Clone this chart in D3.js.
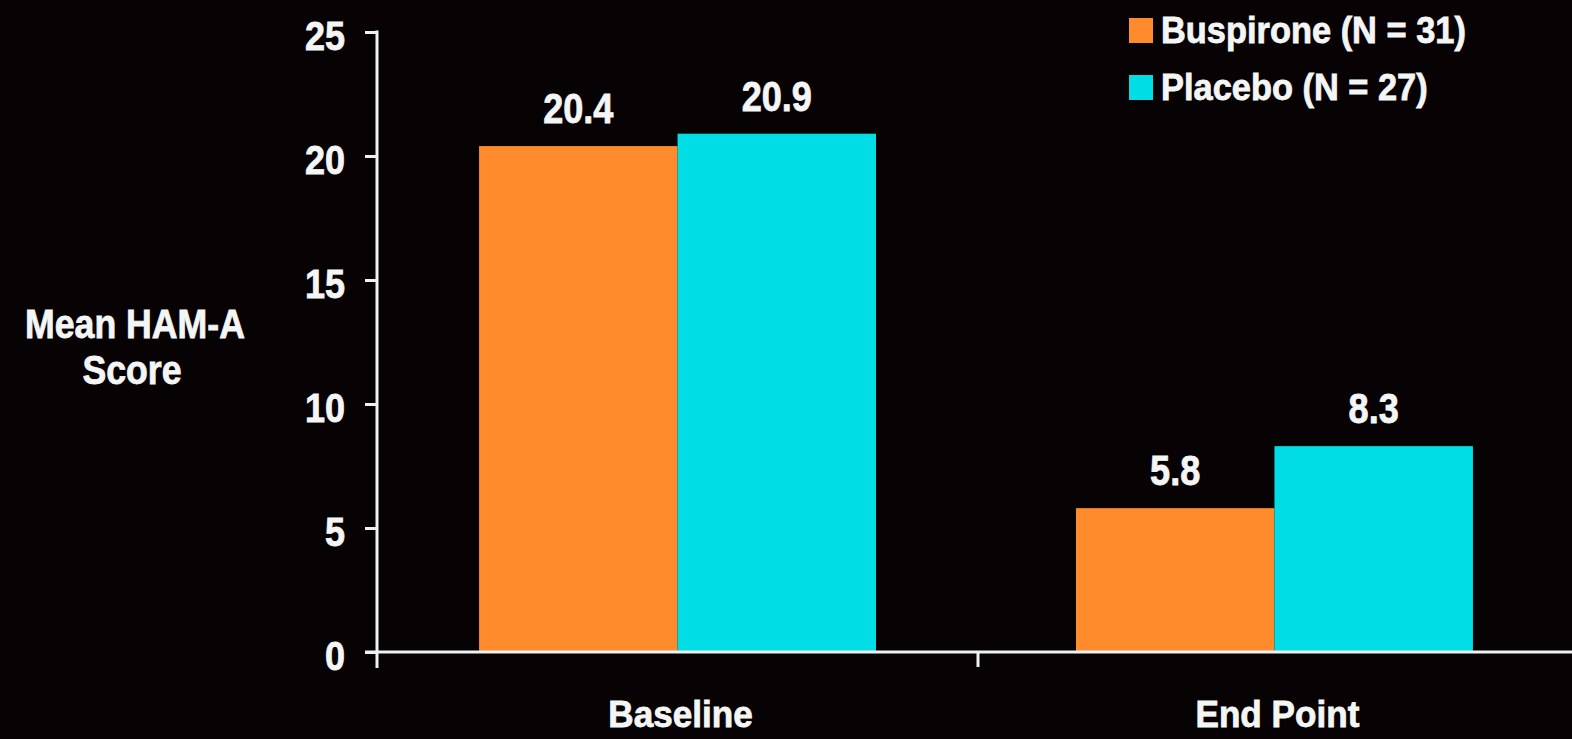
<!DOCTYPE html>
<html>
<head>
<meta charset="utf-8">
<script src="https://cdn.jsdelivr.net/npm/d3@7"></script>
<style>
  html, body { margin: 0; padding: 0; background: #070203; }
  svg { display: block; }
  text { font-family: "Liberation Sans", Arial, Helvetica, sans-serif; font-weight: bold; fill: #f4f6f6; stroke: #f4f6f6; stroke-width: 0.8px; }
</style>
</head>
<body>
<script>
// ---- data ----
const categories = ["Baseline", "End Point"];
const seriesNames = ["Buspirone (N = 31)", "Placebo (N = 27)"];
const buspirone = [20.4, 5.8];
const placebo = [20.9, 8.3];
const yTicks = [0, 5, 10, 15, 20, 25];
const yTitle = ["Mean HAM-A", "Score"];

// ---- setup ----
const W = 1572, H = 739;
const colors = ["#FF8B2C", "#00DDE4"];
const axisColor = "#eef2f2";

const svg = d3.select("body").append("svg").attr("width", W).attr("height", H);
svg.append("rect").attr("width", W).attr("height", H).attr("fill", "#070203");

const y = d3.scaleLinear().domain([0, 25]).range([652, 32]);
const x0 = d3.scaleBand().domain(categories).range([377, 1575]).paddingInner(0.335).paddingOuter(0.171);
const x1 = d3.scaleBand().domain(seriesNames).range([0, x0.bandwidth()]);
const color = d3.scaleOrdinal().domain(seriesNames).range(colors);

// helper for condensed text
function ctext(g, str, x, yy, size, sx, anchor) {
  return g.append("text")
    .attr("transform", `translate(${x},${yy}) scale(${sx},1)`)
    .attr("text-anchor", anchor || "middle")
    .style("font-size", size + "px")
    .text(str);
}

// ---- bars ----
const rows = categories.map((c, i) => ({ cat: c, vals: [buspirone[i], placebo[i]] }));
const groups = svg.selectAll("g.grp").data(rows).join("g")
  .attr("class", "grp")
  .attr("transform", d => `translate(${x0(d.cat)},0)`);

groups.selectAll("rect").data(d => d.vals.map((v, j) => ({ name: seriesNames[j], v })))
  .join("rect")
  .attr("x", d => x1(d.name))
  .attr("width", x1.bandwidth())
  .attr("y", d => y(d.v))
  .attr("height", d => y(0) - y(d.v))
  .attr("fill", d => color(d.name));

groups.each(function(d) {
  const g = d3.select(this);
  d.vals.forEach((v, j) => {
    ctext(g, v.toFixed(1), x1(seriesNames[j]) + x1.bandwidth() / 2, y(v) - 23, 42, 0.86);
  });
});

// ---- y axis ----
const yAxis = d3.axisLeft(y).tickValues(yTicks).tickSize(12).tickFormat("");
const yg = svg.append("g").attr("transform", "translate(377,0)").call(yAxis);
yg.select(".domain").remove();
yg.selectAll(".tick line").attr("stroke", axisColor).attr("stroke-width", 3);
svg.append("line")
  .attr("x1", 377).attr("x2", 377)
  .attr("y1", y(25) - 1.5).attr("y2", y(0) + 16)
  .attr("stroke", axisColor).attr("stroke-width", 3);
yTicks.forEach(t => {
  ctext(svg, String(t), 345, y(t) + 18, 40, 0.9, "end");
});

// ---- x axis ----
svg.append("line")
  .attr("x1", 365).attr("x2", W)
  .attr("y1", y(0)).attr("y2", y(0))
  .attr("stroke", axisColor).attr("stroke-width", 3);
const midTick = x0(categories[1]) - x0.step() * x0.paddingInner() / 2 + 2;
svg.append("line")
  .attr("x1", midTick).attr("x2", midTick)
  .attr("y1", y(0)).attr("y2", y(0) + 15)
  .attr("stroke", axisColor).attr("stroke-width", 3);
categories.forEach(c => {
  ctext(svg, c, x0(c) + x0.bandwidth() / 2 + 3, 727, 37, 0.95);
});

// ---- y title ----
ctext(svg, yTitle[0], 135, 338, 41, 0.87);
ctext(svg, yTitle[1], 132, 384, 41, 0.87);

// ---- legend ----
seriesNames.forEach((s, i) => {
  const ly = 18 + i * 57;
  svg.append("rect").attr("x", 1129).attr("y", ly).attr("width", 24).attr("height", 25).attr("fill", colors[i]);
  ctext(svg, s, 1161, ly + 25, 37, 0.93, "start");
});
</script>
</body>
</html>
